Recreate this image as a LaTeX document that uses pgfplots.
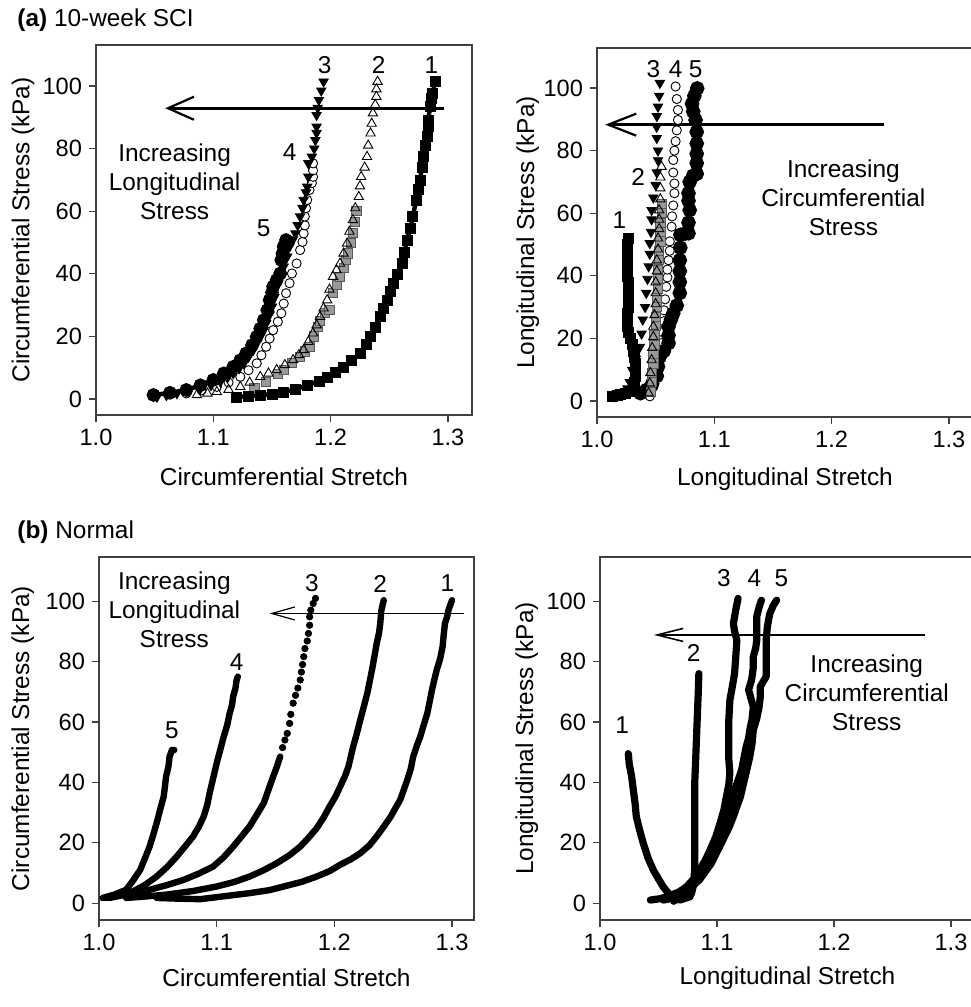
\documentclass[border=0pt]{standalone}
\usepackage{fontspec}
\setmainfont{Liberation Sans}
\usepackage{pgfplots}
\pgfplotsset{compat=1.18}
\usetikzlibrary{arrows.meta}

\newcommand\tfont{\fontsize{11.8}{14}\selectfont}
\newcommand\afont{\fontsize{12.2}{14.5}\selectfont}

\pgfplotsset{
  panel/.style={
    scale only axis,
    xmin=1.0, xtick={1.0,1.1,1.2,1.3}, ytick={0,20,40,60,80,100},
    xtick pos=bottom, ytick pos=left, tick align=outside,
    major tick length=3.5pt,
    axis line style={black!75, line width=0.6pt},
    tick style={black!75, line width=0.6pt},
    /pgf/number format/assume math mode=true,
    x tick label style={/pgf/number format/.cd, fixed, fixed zerofill, precision=1, /tikz/.cd},
    tick label style={font=\tfont},
  },
  ylab/.style={every axis y label/.style={at={(axis description cs:#1,0.5)}, rotate=90, anchor=center, font=\afont}},
  xlab/.style={every axis x label/.style={at={(axis description cs:0.5,#1)}, anchor=center, font=\afont}},
  sq/.style={black, line width=2.2pt, mark=square*, mark size=2.5pt, mark options={solid, line width=0.3pt}},
  otri/.style={only marks, mark=triangle, mark size=2.7pt, mark options={fill=white, draw=black, line width=0.45pt}},
  gsq/.style={only marks, mark=square*, mark size=2.3pt, mark options={fill=black!40, draw=black!65, line width=0.4pt}},
  dtri/.style={only marks, mark=triangle*, mark size=2.7pt, mark options={rotate=180, fill=black, draw=black}},
  ocirc/.style={only marks, mark=*, mark size=2.3pt, mark options={fill=white, draw=black, line width=0.45pt}},
  fcirc/.style={black, line width=2.2pt, mark=*, mark size=2.3pt},
  trace/.style={black, line width=3.2pt, line join=round, line cap=round, no marks},
  dots/.style={only marks, mark=*, mark size=1.6pt, black},
}

\begin{document}
\begin{tikzpicture}
\useasboundingbox (0,0) rectangle (485pt,-503.5pt);

\node[anchor=west, font=\afont, inner sep=0pt] at (8.5pt,-10pt) {\textbf{(a)} 10-week SCI};
\node[anchor=west, font=\afont, inner sep=0pt] at (8.5pt,-266pt) {\textbf{(b)} Normal};

% (a) left: circumferential
\begin{axis}[panel, at={(48pt,-207.5pt)}, anchor=south west,
  width=188pt, height=185pt, xmax=1.3205, ymin=-5.1, ymax=113.1,
  ylab=-0.194, xlab=-0.168,
  xlabel={Circumferential Stretch}, ylabel={Circumferential Stress (kPa)}]
  \addplot[ocirc] coordinates {
    (1.077,1.8)(1.090,2.8)(1.103,3.9)(1.113,5.3)(1.123,7.1)(1.130,9.2)(1.137,11.4)
    (1.141,14)(1.145,16.7)(1.148,19.3)(1.151,22.0)(1.155,24.7)(1.158,27.4)(1.160,30.5)
    (1.162,33.8)(1.165,37)(1.167,40.1)(1.171,43.3)(1.174,47.6)(1.176,50.2)(1.177,52.9)
    (1.178,55.5)(1.178,58.3)(1.179,61)(1.180,63.6)(1.182,66.8)(1.184,69)(1.185,71.0)
    (1.185,73)(1.185,75.3)};
  \addplot[dtri] coordinates {
    (1.052,0.7)(1.060,1.2)(1.069,1.8)(1.079,2.5)(1.089,3.4)(1.098,4.4)(1.106,5.5)
    (1.112,6.8)(1.117,8.2)(1.122,9.8)(1.126,11.4)(1.130,13.5)(1.134,15.7)(1.137,17.8)
    (1.140,19.9)(1.143,22)(1.145,24.2)(1.148,27)(1.150,29.5)(1.152,32.5)(1.154,35.9)
    (1.157,39)(1.160,42.3)(1.163,45.5)(1.165,48.7)(1.168,51)(1.170,52.9)(1.172,55.5)
    (1.174,58.3)(1.176,61)(1.177,63.6)(1.179,66)(1.180,67.8)(1.181,71)(1.181,75.3)
    (1.184,77.4)(1.186,80)(1.187,82.7)(1.188,85)(1.188,87.0)(1.188,90.7)(1.189,93)
    (1.190,95.5)(1.192,98.5)(1.194,101.4)};
  \addplot[fcirc] coordinates {
    (1.049,1.3)(1.063,2.0)(1.077,2.9)(1.089,4.4)(1.100,6.1)(1.109,8.2)(1.117,10.3)
    (1.123,12.4)(1.128,14.6)(1.133,17.2)(1.137,19.9)(1.140,22.5)(1.143,25.2)(1.146,28.4)
    (1.148,31.6)(1.150,34)(1.151,35.9)(1.154,38)(1.157,40.1)(1.158,44.4)(1.159,46.5)
    (1.160,48.7)(1.162,50.8)};
  \addplot[gsq] coordinates {
    (1.135,3.5)(1.145,5.5)(1.155,8.0)(1.160,9.3)(1.167,11.5)(1.174,13.5)(1.178,15.2)
    (1.182,16.7)(1.186,20)(1.189,23)(1.191,25)(1.195,27.5)(1.199,28.5)(1.202,33.8)
    (1.205,36.5)(1.208,39)(1.211,42)(1.213,44.5)(1.215,46.5)(1.217,50)(1.219,53)
    (1.221,56.5)(1.222,60)};
  \addplot[otri] coordinates {
    (1.086,1.3)(1.095,1.8)(1.103,2.3)(1.113,3.0)(1.123,3.9)(1.131,5.3)(1.140,7.1)
    (1.147,8.2)(1.154,9.3)(1.161,10.9)(1.168,12.5)(1.173,14.1)(1.177,15.7)(1.181,18.3)
    (1.185,21.0)(1.188,23.6)(1.191,26.3)(1.194,29)(1.197,31.6)(1.199,35)(1.202,39.1)
    (1.205,41.2)(1.208,43.3)(1.211,46.5)(1.214,49.7)(1.216,53.5)(1.219,57.2)(1.221,61)
    (1.224,64.6)(1.225,68)(1.226,71.0)(1.229,74)(1.231,77.4)(1.232,81)(1.234,84.9)
    (1.235,88)(1.236,91.3)(1.238,94)(1.239,96.6)(1.239,99)(1.240,101.4)};
  \addplot[sq] coordinates {
    (1.120,0.7)(1.130,0.9)(1.140,1.2)(1.150,1.6)(1.160,2.2)(1.170,3.2)(1.180,4.3)
    (1.190,5.8)(1.197,7.1)(1.204,8.6)(1.211,10.3)(1.218,12.3)(1.225,14.6)(1.230,17.5)
    (1.234,19.9)(1.238,23)(1.242,26.3)(1.245,29)(1.248,31.6)(1.251,34.5)(1.253,37.0)
    (1.257,40)(1.261,43.3)(1.263,47)(1.265,50.8)(1.268,54.5)(1.270,58.3)(1.273,63.6)
    (1.275,67)(1.276,70.0)(1.278,74)(1.279,77.4)(1.281,81)(1.282,83.8)(1.283,87)
    (1.283,89.1)(1.285,93.4)(1.286,96)(1.287,97.7)(1.289,101.4)};
  \draw[line width=1.6pt, -{Straight Barb[length=13pt, width=11.5pt, line width=1.1pt]}]
    (axis cs:1.297,92.9) -- (axis cs:1.059,92.9);
  \node[font=\afont, align=center] at (axis cs:1.067,69.4) {Increasing\\Longitudinal\\Stress};
  \node[font=\afont] at (axis cs:1.195,106.7) {3};
  \node[font=\afont] at (axis cs:1.241,106.7) {2};
  \node[font=\afont] at (axis cs:1.286,106.7) {1};
  \node[font=\afont] at (axis cs:1.165,79.0) {4};
  \node[font=\afont] at (axis cs:1.143,54.5) {5};
\end{axis}

% (a) right: longitudinal
\begin{axis}[panel, at={(298.5pt,-208.5pt)}, anchor=south west,
  width=188pt, height=184.5pt, xmax=1.3205, ymin=-5.1, ymax=112.8,
  ylab=-0.184, xlab=-0.168,
  xlabel={Longitudinal Stretch}, ylabel={Longitudinal Stress (kPa)}]
  \addplot[sq, line width=3pt] coordinates {
    (1.013,1.5)(1.017,1.8)(1.020,2.2)(1.024,2.6)(1.028,3.0)(1.031,4.5)(1.032,6.0)
    (1.033,8)(1.033,10)(1.033,12)(1.032,14)(1.031,16)(1.030,18)(1.028,20)(1.027,22)
    (1.026,24)(1.026,26)(1.026,28)(1.027,30)(1.027,32)(1.027,34)(1.027,36)(1.027,38)
    (1.026,40)(1.026,42)(1.026,44)(1.026,46)(1.026,48)(1.026,50)(1.027,52)};
  \addplot[ocirc] coordinates {
    (1.045,1.5)(1.048,4.5)(1.051,8)(1.053,12)(1.055,15)(1.055,18.5)(1.056,22)
    (1.057,25.5)(1.057,29)(1.058,32.5)(1.059,36.5)(1.060,39.5)(1.060,42)(1.061,45)
    (1.062,48)(1.062,51)(1.0636,55.7)(1.064,59)(1.065,62.5)(1.066,66.4)(1.066,69.5)
    (1.065,73)(1.065,77)(1.066,80)(1.067,83)(1.068,86.5)(1.069,89.8)(1.069,93)
    (1.068,96.5)(1.067,100.5)};
  \addplot[fcirc, line width=2.6pt] coordinates {
    (1.037,2.5)(1.0425,3.6)(1.047,5.5)(1.051,8)(1.052,11)(1.0536,14.2)(1.057,16)
    (1.061,18.5)(1.061,21)(1.061,23.8)(1.063,26)(1.065,28)(1.068,30.5)(1.0706,34.5)
    (1.0706,38)(1.0706,41.5)(1.0706,45)(1.071,49)(1.071,53.1)(1.075,53.5)(1.078,53.6)
    (1.078,57)(1.079,61)(1.078,64)(1.078,66.4)(1.079,70)(1.082,72)(1.085,72.6)
    (1.085,76)(1.085,79)(1.085,82.3)(1.085,86)(1.084,89.8)(1.082,92.5)(1.081,95)
    (1.083,97.5)(1.0854,99.9)};
  \addplot[gsq] coordinates {
    (1.046,3)(1.047,6)(1.047,9)(1.048,12)(1.048,15)(1.049,18)(1.049,21)(1.050,24)
    (1.050,27)(1.051,30)(1.051,33)(1.052,36)(1.052,39)(1.052,42)(1.053,45)(1.053,48)
    (1.054,51)(1.054,54)(1.054,57)(1.055,60)(1.055,63)};
  \addplot[otri] coordinates {
    (1.044,2.5)(1.045,5.7)(1.0455,9)(1.0465,13.1)(1.047,17)(1.048,20.5)(1.048,23.8)
    (1.049,27.5)(1.050,31)(1.050,34.5)(1.050,38)(1.051,41.5)(1.051,45)(1.052,48.5)
    (1.052,52)(1.053,55)(1.053,58)(1.053,61)(1.054,64.5)(1.054,68)(1.054,71.5)
    (1.055,74.9)};
  \addplot[dtri] coordinates {
    (1.015,1.5)(1.019,2)(1.022,2.5)(1.026,4)(1.028,6)(1.030,9.9)(1.033,13.5)
    (1.0366,17.3)(1.038,21.5)(1.039,26)(1.041,30)(1.042,34.5)(1.043,39)(1.044,43)
    (1.045,47)(1.045,50.4)(1.046,54)(1.0465,58)(1.0465,61)(1.048,65)(1.050,69)
    (1.051,73)(1.052,76.9)(1.052,80)(1.051,84)(1.0508,87.6)(1.051,91)(1.052,94)
    (1.053,97.5)(1.0536,101.6)};
  \draw[line width=1.6pt, -{Straight Barb[length=14pt, width=11pt, line width=1.1pt]}]
    (axis cs:1.245,88.3) -- (axis cs:1.007,88.3);
  \node[font=\afont, align=center] at (axis cs:1.210,64.8) {Increasing\\Circumferential\\Stress};
  \node[font=\afont] at (axis cs:1.048,105.9) {3};
  \node[font=\afont] at (axis cs:1.067,105.9) {4};
  \node[font=\afont] at (axis cs:1.084,105.9) {5};
  \node[font=\afont] at (axis cs:1.035,71.7) {2};
  \node[font=\afont] at (axis cs:1.019,57.9) {1};
\end{axis}

% (b) left: circumferential
\begin{axis}[panel, at={(49.5pt,-460pt)}, anchor=south west,
  width=187.5pt, height=181.5pt, xmax=1.3187, ymin=-5.6, ymax=114.6,
  ylab=-0.203, xlab=-0.160,
  xlabel={Circumferential Stretch}, ylabel={Circumferential Stress (kPa)}]
  \addplot[trace] coordinates {
    (1.049,1.7)(1.065,1.5)(1.086,1.3)(1.105,2.2)(1.128,3.3)(1.145,4.3)(1.157,5.5)
    (1.172,7.0)(1.185,8.8)(1.196,10.6)(1.205,12.7)(1.214,14.5)(1.222,16.5)(1.230,19.2)
    (1.236,22.1)(1.242,25.3)(1.248,28.7)(1.252,31.5)(1.256,34.2)(1.259,37.5)(1.262,40.8)
    (1.265,44.5)(1.267,48.5)(1.270,52)(1.273,55.1)(1.276,59)(1.279,62.8)(1.281,66.7)
    (1.283,70.6)(1.285,74)(1.287,77.2)(1.290,81)(1.292,84.9)(1.293,89)(1.294,92.6)
    (1.296,95)(1.297,97.0)(1.300,100.3)};
  \addplot[trace] coordinates {
    (1.023,1.7)(1.040,2.2)(1.057,2.8)(1.080,4.0)(1.100,5.5)(1.115,7.0)(1.128,8.8)
    (1.140,10.9)(1.151,13.2)(1.162,15.9)(1.171,18.7)(1.178,21.6)(1.185,24.8)(1.191,28.4)
    (1.196,32.0)(1.201,35.3)(1.205,38.6)(1.209,42)(1.212,45.2)(1.214,48.5)(1.216,51.8)
    (1.219,56)(1.222,60.6)(1.225,65)(1.228,69.5)(1.230,73.3)(1.232,77.2)(1.234,81.5)
    (1.236,86.0)(1.238,89.5)(1.239,92.6)(1.240,97.0)(1.242,100.3)};
  \addplot[trace] coordinates {
    (1.009,1.7)(1.025,3.0)(1.043,4.4)(1.058,6.0)(1.072,7.7)(1.085,9.8)(1.097,12.1)
    (1.106,15.2)(1.114,18.7)(1.121,22)(1.128,25.4)(1.134,29.2)(1.140,33.1)(1.144,37.5)
    (1.148,41.9)(1.151,45)(1.154,48.5)};
  \addplot[dots] coordinates {
    (1.156,51.5)(1.158,54)(1.160,56.2)(1.162,59.5)(1.163,62.5)(1.165,66.2)(1.167,68.8)
    (1.169,71.2)(1.171,73.9)(1.172,76.5)(1.173,79)(1.174,81.6)(1.175,84.3)(1.177,86.8)
    (1.178,89.3)(1.179,92)(1.179,94.8)(1.180,97)(1.182,99.2)(1.184,100.9)};
  \addplot[trace] coordinates {
    (1.006,1.7)(1.018,2.6)(1.029,3.9)(1.039,6.0)(1.049,8.8)(1.058,12)(1.066,15.4)
    (1.073,18.7)(1.080,22.1)(1.085,25.4)(1.089,28.7)(1.092,32.5)(1.094,36.4)(1.097,41.3)
    (1.100,46.3)(1.103,50.7)(1.106,55.1)(1.109,59)(1.111,62.8)(1.113,65.5)(1.114,68.4)
    (1.116,71.2)(1.117,73.9)(1.118,75)};
  \addplot[trace] coordinates {
    (1.003,1.7)(1.013,2.8)(1.023,4.4)(1.029,7.5)(1.035,11)(1.039,14.8)(1.043,18.7)
    (1.046,22.5)(1.049,26.5)(1.052,31)(1.055,35.3)(1.056,38.5)(1.057,41.9)(1.059,45.2)
    (1.060,48.5)(1.062,50.7)(1.064,50.7)};
  \draw[line width=0.8pt, -{Straight Barb[length=11.5pt, width=6.5pt, line width=0.6pt]}]
    (axis cs:1.310,95.9) -- (axis cs:1.145,95.9);
  \node[font=\afont, align=center] at (axis cs:1.064,97.0) {Increasing\\Longitudinal\\Stress};
  \node[font=\afont] at (axis cs:1.181,105.8) {3};
  \node[font=\afont] at (axis cs:1.239,105.8) {2};
  \node[font=\afont] at (axis cs:1.296,105.8) {1};
  \node[font=\afont] at (axis cs:1.117,79.9) {4};
  \node[font=\afont] at (axis cs:1.062,57.3) {5};
\end{axis}

% (b) right: longitudinal
\begin{axis}[panel, at={(300pt,-460pt)}, anchor=south west,
  width=187.5pt, height=181.5pt, xmax=1.3205, ymin=-5.6, ymax=114.6,
  ylab=-0.195, xlab=-0.160,
  xlabel={Longitudinal Stretch}, ylabel={Longitudinal Stress (kPa)},
  trace/.append style={line width=3.6pt}]
  \addplot[trace] coordinates {
    (1.0242,49.5)(1.025,46)(1.027,42)(1.0285,37.4)(1.030,33)(1.031,28.7)(1.034,24)
    (1.037,19.8)(1.041,15)(1.0456,10.9)(1.050,8)(1.054,5.4)(1.058,3.5)(1.061,2.1)
    (1.068,1.0)(1.077,2.1)};
  \addplot[trace] coordinates {
    (1.075,2)(1.078,3)(1.080,6)(1.081,12)(1.081,20)(1.081,30)(1.081,40)(1.082,50)
    (1.083,60)(1.084,70)(1.0845,76)};
  \addplot[trace] coordinates {
    (1.043,1.0)(1.052,1.5)(1.060,2.5)(1.068,3.8)(1.074,5.4)(1.080,8)(1.085,10.9)
    (1.090,14.2)(1.094,17.5)(1.099,22)(1.1026,26.4)(1.106,31)(1.108,35.2)(1.110,39)
    (1.111,43)(1.110,48)(1.110,54)(1.110,60)(1.111,67.2)(1.113,71.5)(1.115,76)
    (1.116,81.5)(1.117,87)(1.115,90)(1.114,92.6)(1.116,97)(1.118,100.9)};
  \addplot[trace] coordinates {
    (1.054,1.0)(1.062,1.6)(1.068,2.1)(1.074,4)(1.080,6.5)(1.086,9.8)(1.091,13.1)
    (1.096,17)(1.101,20.9)(1.106,24.7)(1.110,28.5)(1.113,33)(1.115,37.4)(1.118,40.7)
    (1.121,44)(1.123,48)(1.125,51.9)(1.127,54.6)(1.128,57.3)(1.130,61)(1.131,65)
    (1.127,70.6)(1.1296,74)(1.131,78)(1.131,81.6)(1.133,84.3)(1.134,87)(1.134,91)
    (1.134,95)(1.136,98)(1.138,100.3)};
  \addplot[trace] coordinates {
    (1.063,0.6)(1.068,2.5)(1.074,4.4)(1.080,6)(1.085,7.7)(1.090,10.4)(1.095,13.1)
    (1.100,17)(1.105,20.9)(1.110,24.8)(1.114,28.7)(1.117,32)(1.120,35.2)(1.124,41.8)
    (1.128,48.4)(1.130,53)(1.131,57.3)(1.134,61.2)(1.136,65)(1.137,68.4)(1.137,71.7)
    (1.142,75)(1.142,81)(1.142,87)(1.143,91.4)(1.145,95.7)(1.148,98.5)(1.151,100.3)};
  \draw[line width=1pt, -{Straight Barb[length=13pt, width=6.5pt, line width=0.8pt]}]
    (axis cs:1.278,88.8) -- (axis cs:1.046,88.8);
  \node[font=\afont, align=center] at (axis cs:1.228,69.5) {Increasing\\Circumferential\\Stress};
  \node[font=\afont] at (axis cs:1.106,107.5) {3};
  \node[font=\afont] at (axis cs:1.132,107.5) {4};
  \node[font=\afont] at (axis cs:1.155,107.5) {5};
  \node[font=\afont] at (axis cs:1.080,82.7) {2};
  \node[font=\afont] at (axis cs:1.019,59.0) {1};
\end{axis}
\end{tikzpicture}
\end{document}
